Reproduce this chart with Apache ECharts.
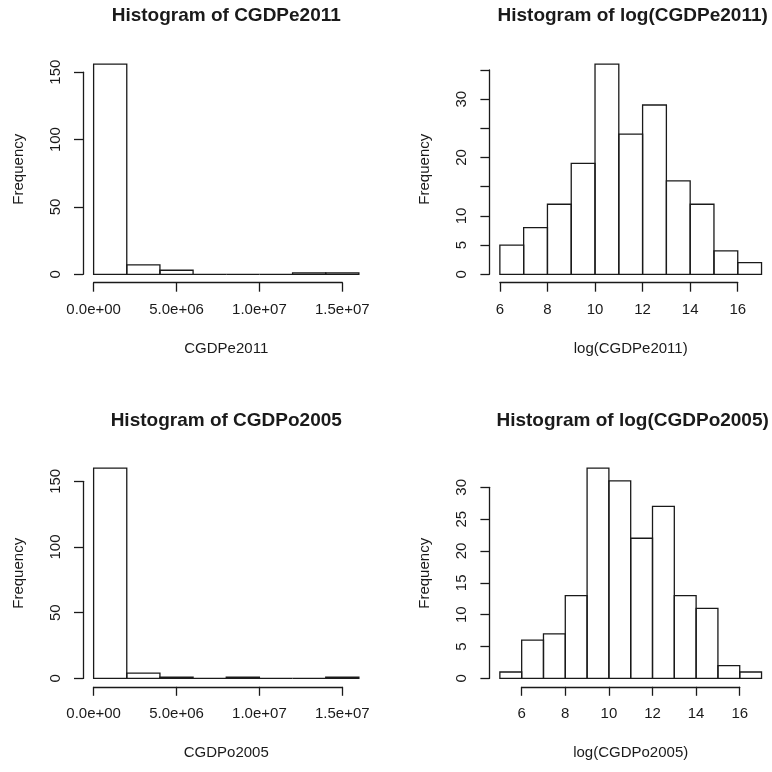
<!DOCTYPE html>
<html>
<head>
<meta charset="utf-8">
<script src="https://cdn.jsdelivr.net/npm/echarts@6/dist/echarts.min.js"></script>
<style>
html, body { margin: 0; padding: 0; background: #fff; }
#main { width: 772px; height: 772px; }
</style>
</head>
<body>
<div id="main"></div>
<script>
// bin edges and counts
const rawBreaks = [0, 2e6, 4e6, 6e6, 8e6, 1e7, 1.2e7, 1.4e7, 1.6e7]
const countsE2011 = [156, 7, 3, 0, 0, 0, 1, 1]
const countsO2005 = [160, 4, 1, 0, 1, 0, 0, 1]

const logBreaksE2011 = [6, 7, 8, 9, 10, 11, 12, 13, 14, 15, 16, 17]
const logCountsE2011 = [5, 8, 12, 19, 36, 24, 29, 16, 12, 4, 2]
const logBreaksO2005 = [5, 6, 7, 8, 9, 10, 11, 12, 13, 14, 15, 16, 17]
const logCountsO2005 = [1, 6, 7, 13, 33, 31, 22, 27, 13, 11, 2, 1]

// tick values and labels
const sciTicks = [0, 5e6, 1e7, 1.5e7]
const sciTickLabels = ['0.0e+00', '5.0e+06', '1.0e+07', '1.5e+07']
const logTicks = [6, 8, 10, 12, 14, 16]
const logTickLabels = ['6', '8', '10', '12', '14', '16']
const freqTicksBig = [0, 50, 100, 150]
const freqLabelsBig = ['0', '50', '100', '150']
const freqTicksE = [0, 5, 10, 15, 20, 25, 30, 35]
const freqLabelsE = ['0', '5', '10', '', '20', '', '30', ''] // R drops the crowded ones
const freqTicksO = [0, 5, 10, 15, 20, 25, 30]
const freqLabelsO = ['0', '5', '10', '15', '20', '25', '30']

const FONT = "'Liberation Sans', Arial, sans-serif"
const INK = '#1a1a1a'
const LW = 1.3

const panels = [
	{ title: 'Histogram of CGDPe2011', xName: 'CGDPe2011', breaks: rawBreaks, counts: countsE2011,
		xTicks: sciTicks, xLabels: sciTickLabels, yTicks: freqTicksBig, yLabels: freqLabelsBig,
		box: { left: 83, top: 55.7, width: 286.5, height: 227 } },
	{ title: 'Histogram of log(CGDPe2011)', xName: 'log(CGDPe2011)', breaks: logBreaksE2011, counts: logCountsE2011,
		xTicks: logTicks, xLabels: logTickLabels, yTicks: freqTicksE, yLabels: freqLabelsE,
		box: { left: 489.4, top: 55.7, width: 286.5, height: 227 } },
	{ title: 'Histogram of CGDPo2005', xName: 'CGDPo2005', breaks: rawBreaks, counts: countsO2005,
		xTicks: sciTicks, xLabels: sciTickLabels, yTicks: freqTicksBig, yLabels: freqLabelsBig,
		box: { left: 83, top: 459.8, width: 286.5, height: 227 } },
	{ title: 'Histogram of log(CGDPo2005)', xName: 'log(CGDPo2005)', breaks: logBreaksO2005, counts: logCountsO2005,
		xTicks: logTicks, xLabels: logTickLabels, yTicks: freqTicksO, yLabels: freqLabelsO,
		box: { left: 489.4, top: 459.8, width: 286.5, height: 227 } }
]

// R pads the data range by 4% on each side
function padded(lo, hi) {
	const d = (hi - lo) * 0.04
	return [lo - d, hi + d]
}

function labelFor(ticks, labels) {
	return v => {
		const i = ticks.findIndex(t => Math.abs(t - v) < 1e-9 * Math.max(1, Math.abs(t)))
		return i >= 0 ? labels[i] : ''
	}
}

const chart = echarts.init(document.getElementById('main'), null, { renderer: 'canvas' })

const grids = []
const xAxes = []
const yAxes = []
const series = []
const titles = []

panels.forEach((p, i) => {
	const xl = padded(p.breaks[0], p.breaks[p.breaks.length - 1])
	const yl = padded(0, Math.max(...p.counts))
	grids.push({ left: p.box.left, top: p.box.top, width: p.box.width, height: p.box.height, containLabel: false })
	xAxes.push({
		gridIndex: i, type: 'value', min: xl[0], max: xl[1],
		axisLine: { show: false }, axisTick: { show: false }, axisLabel: { show: false }, splitLine: { show: false },
		name: p.xName, nameLocation: 'middle', nameGap: 59,
		nameTextStyle: { fontFamily: FONT, fontSize: 15, color: INK }
	})
	yAxes.push({
		gridIndex: i, type: 'value', min: yl[0], max: yl[1],
		axisLine: { show: false }, axisTick: { show: false }, axisLabel: { show: false }, splitLine: { show: false },
		name: 'Frequency', nameLocation: 'middle', nameGap: 57,
		nameTextStyle: { fontFamily: FONT, fontSize: 15, color: INK }
	})
	series.push({
		type: 'custom', xAxisIndex: i, yAxisIndex: i,
		data: p.counts.map((c, k) => [p.breaks[k], p.breaks[k + 1], c]),
		encode: { x: [0, 1], y: 2 },
		renderItem(params, api) {
			const a = api.coord([api.value(0), api.value(2)])
			const b = api.coord([api.value(1), 0])
			return {
				type: 'rect',
				shape: { x: a[0], y: a[1], width: b[0] - a[0], height: b[1] - a[1] },
				style: { fill: 'none', stroke: INK, lineWidth: LW }
			}
		},
		silent: true, animation: false
	})
	titles.push({
		text: p.title, left: p.box.left + p.box.width / 2, top: p.box.top - 49, textAlign: 'center', padding: 0,
		textStyle: { fontFamily: FONT, fontSize: 19, fontWeight: 'bold', color: INK }
	})
})

chart.setOption({ animation: false, title: titles, grid: grids, xAxis: xAxes, yAxis: yAxes, series: series })

// second pass: R-style axes that run only from the first to the last tick
const axisStyle = { lineStyle: { color: INK, width: LW } }
panels.forEach((p, i) => {
	const xFirst = p.xTicks[0], xLast = p.xTicks[p.xTicks.length - 1]
	const yFirst = p.yTicks[0], yLast = p.yTicks[p.yTicks.length - 1]
	const pa = chart.convertToPixel({ gridIndex: i }, [xFirst, yFirst])
	const pb = chart.convertToPixel({ gridIndex: i }, [xLast, yLast])
	const bottom = p.box.top + p.box.height
	const left = p.box.left

	// x axis strip
	let g = grids.length
	grids.push({ left: pa[0], width: pb[0] - pa[0], top: bottom - 10, height: 10 })
	xAxes.push({
		gridIndex: g, type: 'value', min: xFirst, max: xLast, interval: p.xTicks[1] - p.xTicks[0],
		axisLine: { show: true, ...axisStyle }, axisTick: { show: true, length: 9, ...axisStyle },
		splitLine: { show: false },
		axisLabel: { show: true, margin: 20, fontFamily: FONT, fontSize: 15, color: INK,
			showMinLabel: true, showMaxLabel: true, hideOverlap: false, formatter: labelFor(p.xTicks, p.xLabels) }
	})
	yAxes.push({ gridIndex: g, type: 'value', min: 0, max: 1, show: false })

	// y axis strip
	g = grids.length
	grids.push({ left: left, width: 10, top: pb[1], height: pa[1] - pb[1] })
	xAxes.push({ gridIndex: g, type: 'value', min: 0, max: 1, show: false })
	yAxes.push({
		gridIndex: g, type: 'value', min: yFirst, max: yLast, interval: p.yTicks[1] - p.yTicks[0],
		axisLine: { show: true, ...axisStyle }, axisTick: { show: true, length: 9, ...axisStyle },
		splitLine: { show: false },
		axisLabel: { show: true, rotate: 90, margin: 20, fontFamily: FONT, fontSize: 15, color: INK,
			showMinLabel: true, showMaxLabel: true, hideOverlap: false, formatter: labelFor(p.yTicks, p.yLabels) }
	})
})

chart.setOption({ grid: grids, xAxis: xAxes, yAxis: yAxes })
</script>
</body>
</html>
